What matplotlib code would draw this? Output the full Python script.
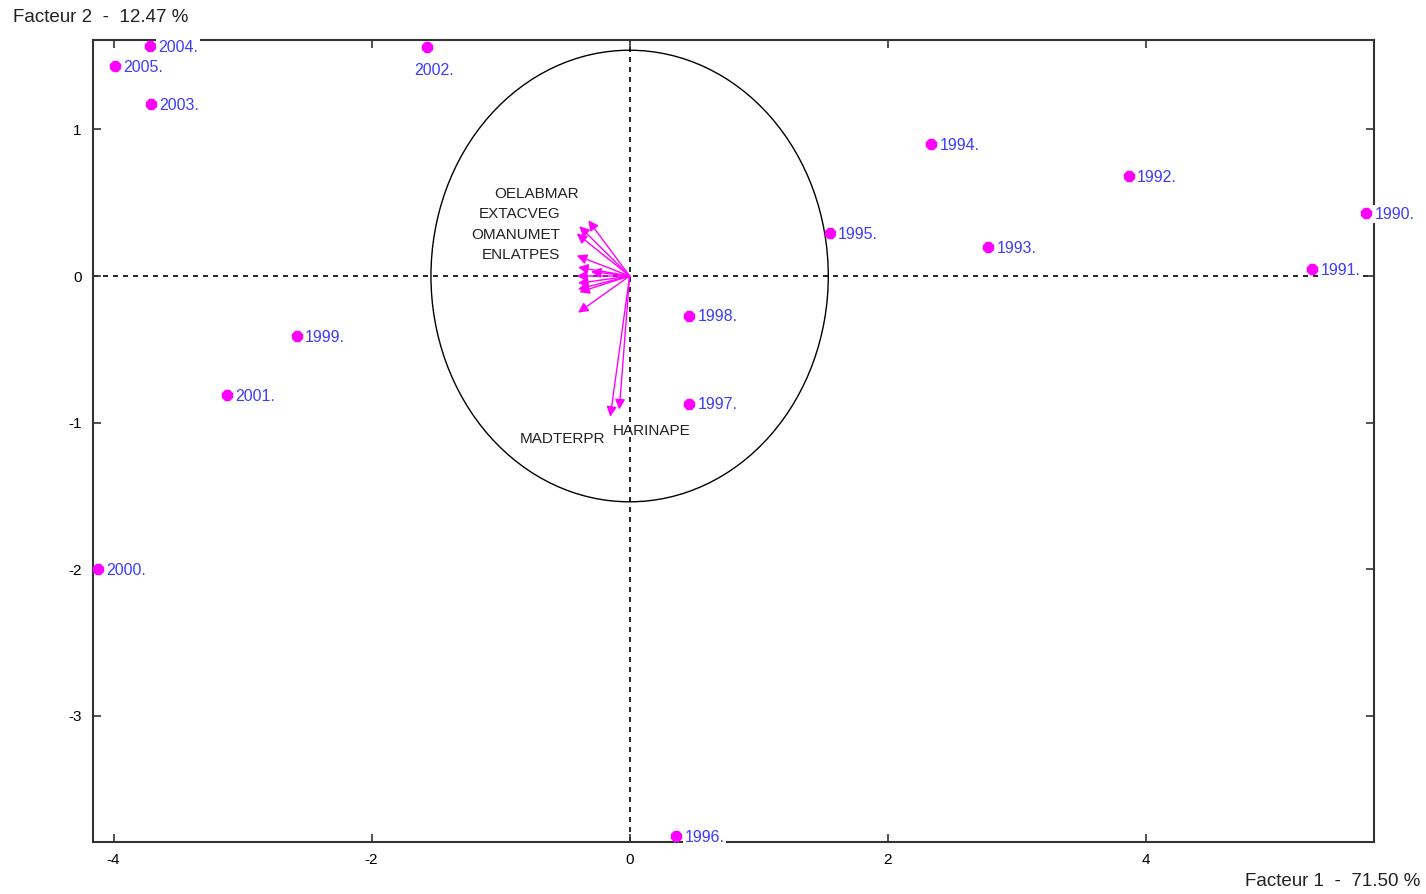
import matplotlib
matplotlib.use('Agg')
import matplotlib.pyplot as plt
from matplotlib.patches import Circle

# --- individuals (years) on factors 1 and 2 ---
years = ['1990.', '1991.', '1992.', '1993.', '1994.', '1995.', '1996.', '1997.',
         '1998.', '1999.', '2000.', '2001.', '2002.', '2003.', '2004.', '2005.']
f1 = [5.71, 5.29, 3.87, 2.78, 2.34, 1.55, 0.36, 0.46,
      0.46, -2.58, -4.12, -3.12, -1.57, -3.71, -3.72, -3.99]
f2 = [0.43, 0.05, 0.68, 0.20, 0.90, 0.29, -3.82, -0.87,
      -0.27, -0.41, -2.00, -0.81, 1.56, 1.17, 1.57, 1.43]

# --- variable arrows (scaled) ---
var_x = [-0.32, -0.39, -0.41, -0.41, -0.40, -0.30, -0.41, -0.40, -0.40, -0.39, -0.40, -0.15, -0.08]
var_y = [0.38, 0.34, 0.29, 0.14, 0.06, 0.03, 0.00, -0.05, -0.09, -0.11, -0.25, -0.96, -0.91]
var_names = ['OELABMAR', 'EXTACVEG', 'OMANUMET', 'ENLATPES', 'MADTERPR', 'HARINAPE']
var_name_x = [-0.72, -0.85, -0.88, -0.84, -0.52, 0.17]
var_name_y = [0.56, 0.42, 0.28, 0.14, -1.11, -1.06]

circle_r = 1.54

plt.rcParams['font.family'] = ['Liberation Sans', 'DejaVu Sans']
plt.rcParams['axes.unicode_minus'] = False

fig = plt.figure(figsize=(14.26, 8.94), dpi=100)
ax = fig.add_axes([0.0652, 0.0582, 0.8983, 0.8971])

ax.set_xlim(-4.16, 5.77)
ax.set_ylim(-3.86, 1.61)

# zero lines
ax.axhline(0, color='black', lw=1.2, ls=(0, (3, 3)), zorder=1)
ax.axvline(0, color='black', lw=1.2, ls=(0, (3, 3)), zorder=1)

# correlation circle
ax.add_patch(Circle((0, 0), circle_r, fill=False, ec='black', lw=1.0, zorder=1))

# arrows
for x, y in zip(var_x, var_y):
    ax.annotate('', xy=(x, y), xytext=(0, 0),
                arrowprops=dict(arrowstyle='-|>', color='#ff00ff', lw=1.0,
                                mutation_scale=15, shrinkA=0, shrinkB=0),
                zorder=3)

for name, x, y in zip(var_names, var_name_x, var_name_y):
    ax.text(x, y, name, fontsize=11, color='#222222', ha='center', va='center', zorder=4)

# individuals
ax.plot(f1, f2, ls='none', marker='8', ms=8, color='#ff00ff', zorder=5, clip_on=False)
for lab, x, y in zip(years, f1, f2):
    if lab == '2002.':
        off, ha = (5, -17), 'center'
    else:
        off, ha = (6, -1), 'left'
    ax.annotate(lab, xy=(x, y), xytext=off, textcoords='offset points',
                fontsize=11.5, color='#3c3cff', ha=ha, va='center',
                bbox=dict(boxstyle='square,pad=0.1', fc='white', ec='none'),
                annotation_clip=False, zorder=6)

ax.set_xticks([-4, -2, 0, 2, 4])
ax.set_yticks([-3, -2, -1, 0, 1])
ax.tick_params(direction='in', length=6, width=1.2, top=True, right=True,
               labelsize=11, pad=8, color='#333333')
for sp in ax.spines.values():
    sp.set_linewidth(1.5)
    sp.set_color('#333333')
    sp.set_zorder(2)

fig.text(13 / 1426, 1 - 18 / 894, 'Facteur 2  -  12.47 %', fontsize=13.5,
         ha='left', va='center', color='#222222')
fig.text(1420 / 1426, 1 - 882 / 894, 'Facteur 1  -  71.50 %', fontsize=13.5,
         ha='right', va='center', color='#222222')

fig.savefig('out.png', dpi=100)
